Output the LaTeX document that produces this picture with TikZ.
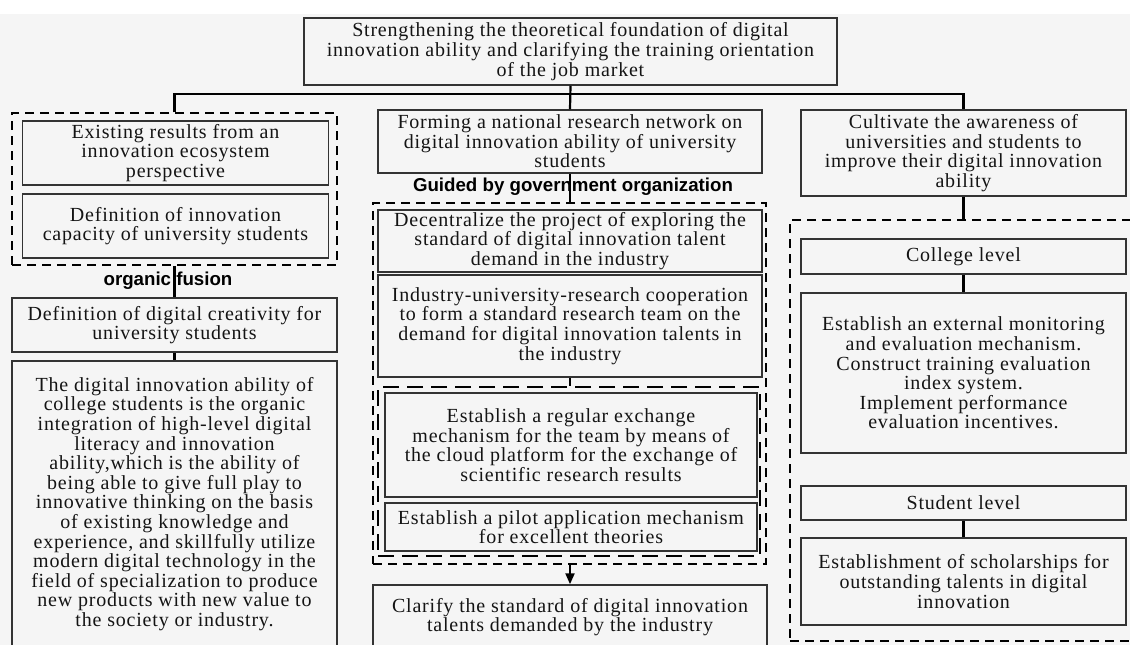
\documentclass[tikz,border=0pt]{standalone}
\usepackage{fontspec}
\setmainfont{Liberation Serif}[LetterSpace=4]
\newfontfamily\labelfont{Liberation Sans}
\usetikzlibrary{arrows.meta}
\definecolor{boxline}{HTML}{333333}
\definecolor{inktext}{HTML}{141414}
\definecolor{paper}{HTML}{F5F5F5}

\begin{document}
\begin{tikzpicture}[x=1pt, y=-1pt,
                    box/.style = {draw=boxline,
                                line width=1.5pt,
                                align=center,
                                inner sep=0pt,
                                text=inktext,
                                font=\fontsize{20}{19.6}\selectfont},
                    wh/.style 2 args = {minimum width=#1pt,
                                minimum height=#2pt},
                    group/.style = {draw=black,
                                line width=1.5pt,
                                dash pattern=on 9pt off 6pt},
                    subgroup/.style = {draw=black,
                                line width=1.7pt,
                                dash pattern=on 16pt off 8pt},
                    link/.style = {draw=black, line width=2.2pt},
                    tag/.style = {inner sep=0pt,
                                font=\labelfont\bfseries\fontsize{18.7}{20}\selectfont}]
                    \useasboundingbox (0,0) rectangle (1130,645);
                    \clip (0,0) rectangle (1130,645);
                    \fill[white] (0,0) rectangle (1130,645);
                    \fill[paper] (0,14) rectangle (1130,645);
                    % Goal
                    \node[box,wh={533}{67}] (top) at (570.5,51.5)
                        {Strengthening the theoretical foundation of digital\\
                         innovation ability and clarifying the training orientation\\
                         of the job market};
                    % Left column
                    \node[group,wh={325}{152}] (leftgroup) at (174.5,189) {};
                    \node[box,wh={306}{64}] (exist) at (175.5,153)
                        {Existing results from an\\ innovation ecosystem\\ perspective};
                    \node[box,wh={306}{64}] (defcap) at (175.5,226)
                        {Definition of innovation\\ capacity of university students};
                    \node[box,wh={325}{54}] (defdig) at (174.5,325)
                        {Definition of digital creativity for\\ university students};
                    \node[box,wh={325}{286}] (ability) at (174.5,504)
                        {The digital innovation ability of\\
                         college students is the organic\\
                         integration of high-level digital\\
                         literacy and innovation\\
                         ability,which is the ability of\\
                         being able to give full play to\\
                         innovative thinking on the basis\\
                         of existing knowledge and\\
                         experience, and skillfully utilize\\
                         modern digital technology in the\\
                         field of specialization to produce\\
                         new products with new value to\\
                         the society or industry.};
                    % Middle column
                    \node[box,wh={384}{63}] (forming) at (570,141.5)
                        {Forming a national research network on\\
                         digital innovation ability of university\\ students};
                    \node[group,wh={393}{361}] (midgroup) at (569.5,383.5) {};
                    \node[box,wh={384}{62}] (decent) at (570,241)
                        {Decentralize the project of exploring the\\
                         standard of digital innovation talent\\ demand in the industry};
                    \node[box,wh={384}{102}] (industry) at (570,326)
                        {Industry-university-research cooperation\\
                         to form a standard research team on the\\
                         demand for digital innovation talents in\\ the industry};
                    \node[subgroup,wh={382}{169}] (subgroup) at (569,471.5) {};
                    \node[box,wh={372}{104}] (exchange) at (571,445)
                        {Establish a regular exchange\\
                         mechanism for the team by means of\\
                         the cloud platform for the exchange of\\
                         scientific research results};
                    \node[box,wh={372}{48}] (pilot) at (571,527)
                        {Establish a pilot application mechanism\\ for excellent theories};
                    \node[box,wh={394}{64}] (clarify) at (570,617)
                        {Clarify the standard of digital innovation\\
                         talents demanded by the industry};
                    % Right column
                    \node[box,wh={325}{86}] (cultivate) at (963.5,153)
                        {Cultivate the awareness of\\ universities and students to\\
                         improve their digital innovation\\ ability};
                    \node[group,wh={350}{421}] (rightgroup) at (965,430.5) {};
                    \node[box,wh={325}{35}] (college) at (963.5,256.5) {College level};
                    \node[box,wh={325}{160}] (external) at (963.5,373)
                        {Establish an external monitoring\\ and evaluation mechanism.\\
                         Construct training evaluation\\ index system.\\
                         Implement performance\\ evaluation incentives.};
                    \node[box,wh={325}{34}] (student) at (963.5,503) {Student level};
                    \node[box,wh={325}{87}] (scholar) at (963.5,581.5)
                        {Establishment of scholarships for\\
                         outstanding talents in digital\\ innovation};
                    % Connectors
                    \path (top.south) ++(0,8) coordinate (bus);
                    \draw[link] (top.south) -- (forming.north);
                    \draw[link] (leftgroup.north) |- (bus) -| (cultivate.north);
                    \draw[link] (leftgroup.south) -- (defdig.north);
                    \draw[link] (defdig.south) -- (ability.north);
                    \draw[link] (forming.south) -- (forming.south |- midgroup.north);
                    \draw[link] (industry.south) -- (industry.south |- subgroup.north);
                    \draw[link,-{Triangle[length=11pt,width=9pt]}]
                        (midgroup.south -| clarify.north) -- (clarify.north);
                    \draw[link] (cultivate.south) -- (cultivate.south |- rightgroup.north);
                    \draw[link] (college.south) -- (external.north);
                    \draw[link] (student.south) -- (scholar.north);
                    % Link labels
                    \node[tag] (fusion) at (168,281) {organic fusion};
                    \node[tag] (guided) at (573,187) {Guided by government organization};
                \end{tikzpicture}
\end{document}
